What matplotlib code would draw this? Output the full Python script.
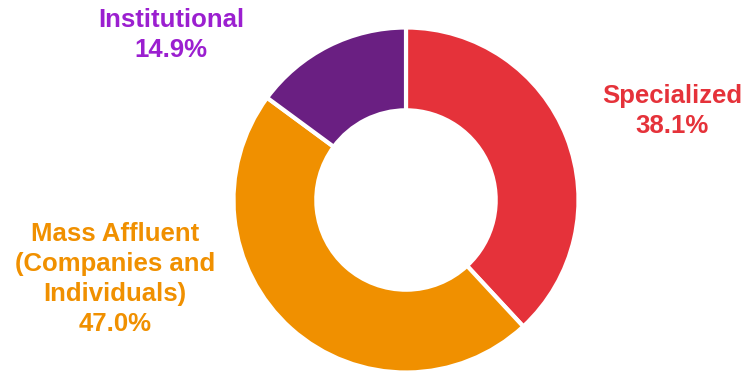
import matplotlib
matplotlib.use("Agg")
import matplotlib.pyplot as plt

categories = ["Specialized", "Mass Affluent\n(Companies and\nIndividuals)", "Institutional"]
values = [38.1, 47.0, 14.9]
wedge_colors = ["#E5323A", "#F09000", "#6A1F82"]
label_colors = ["#E5323A", "#F09000", "#9B1FD0"]

W, H = 746, 371
fig = plt.figure(figsize=(W / 100, H / 100), dpi=100)
ax = fig.add_axes([0, 0, 1, 1])

cx, cy, R = 406, H - 200, 172.5
ax.pie(values, colors=wedge_colors, startangle=90, counterclock=False,
       center=(cx, cy), radius=R,
       wedgeprops=dict(width=R * 0.48, edgecolor="white", linewidth=3))
ax.set_xlim(0, W)
ax.set_ylim(0, H)
ax.set_aspect("equal")
ax.axis("off")

label_pos = [(672, H - 111), (115, H - 279), (171, H - 35)]
font = dict(family=["Liberation Sans", "DejaVu Sans"], fontweight="bold", fontsize=18.5)
for cat, v, c, (x, y) in zip(categories, values, label_colors, label_pos):
    ax.text(x, y, f"{cat}\n{v:.1f}%", ha="center", va="center", color=c,
            linespacing=1.33, **font)

fig.savefig("out.png", dpi=100)
